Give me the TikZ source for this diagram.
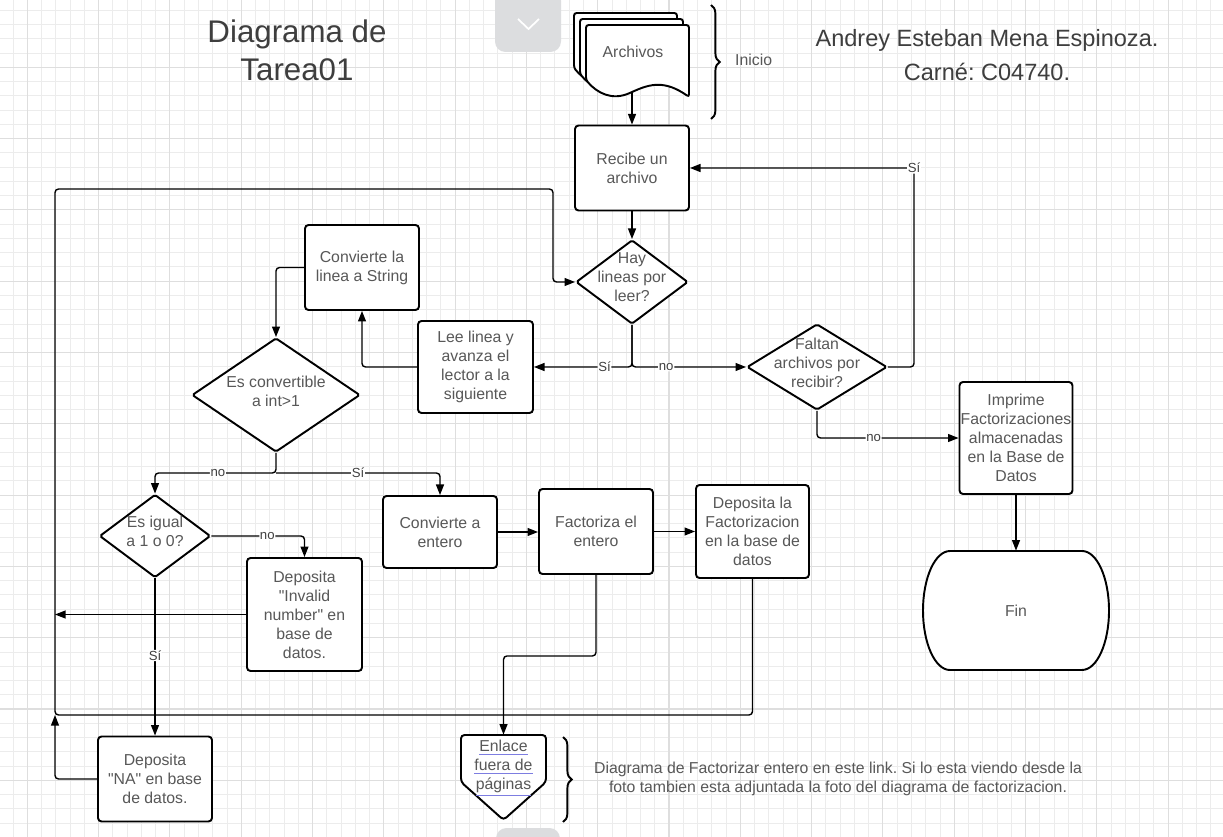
\documentclass[tikz,border=0pt]{standalone}
\usepackage{fontspec}
\setmainfont{Liberation Sans}
\usepackage{tikz}
\usetikzlibrary{shapes.geometric, arrows.meta}
\usetikzlibrary{decorations.pathreplacing}
\definecolor{txtgray}{RGB}{88,88,88}
\definecolor{titgray}{RGB}{62,62,62}
\definecolor{gridmin}{RGB}{236,236,236}
\definecolor{gridmaj}{RGB}{222,222,222}
\definecolor{enlaceazul}{RGB}{125,125,225}
\definecolor{tabgray}{RGB}{220,221,223}
\tikzstyle{proceso} = [rectangle, rounded corners=2pt, draw=black, line width=1.1pt, fill=white, text=txtgray, font=\fontsize{9}{10.8}\selectfont, align=center, inner sep=0.5pt]
\tikzstyle{decision} = [diamond, draw=black, line width=1.1pt, fill=white, inner sep=0pt, rounded corners=1pt]
\tikzstyle{texto} = [text=txtgray, font=\fontsize{9}{10.8}\selectfont, align=center]
\tikzstyle{arrow} = [line width=0.8pt,->,>={Triangle[length=6pt,width=4.5pt]}, rounded corners=2pt]
\tikzstyle{etiq} = [fill=white, inner sep=0.4pt, text=black!75, font=\fontsize{7.5}{8}\selectfont]
\tikzstyle{llave} = [decorate, decoration={brace, amplitude=5pt}, line width=1.1pt]
\newcommand{\enl}[1]{{\color{enlaceazul}\underline{\textcolor{txtgray}{#1}}}}
\frenchspacing

\begin{document}
\begin{tikzpicture}[x=0.02cm,y=-0.02cm]
	\useasboundingbox (0,0) rectangle (1223,837);
	\clip (0,0) rectangle (1223,837);
	\fill[white] (0,0) rectangle (1223,837);
	\foreach \i in {-1,...,84}
	\draw[gridmin, line width=0.5pt] ({27.3+14.26*\i},0) -- ({27.3+14.26*\i},837);
	\foreach \j in {-4,...,54}
	\draw[gridmin, line width=0.5pt] (0,{67.3+14.26*\j}) -- (1223,{67.3+14.26*\j});
	\foreach \i in {0,...,16}
	\draw[gridmaj, line width=0.6pt] ({27.3+71.3*\i},0) -- ({27.3+71.3*\i},837);
	\foreach \j in {-1,...,10}
	\draw[gridmaj, line width=0.6pt] (0,{67.3+71.3*\j}) -- (1223,{67.3+71.3*\j});
	\fill[tabgray, rounded corners=6pt] (495,-10) rectangle (561,52);
	\draw[white, line width=1pt] (518,19) -- (528.5,29) -- (539,19);
	\fill[tabgray, rounded corners=6pt] (496,828) rectangle (560,850);
	\node[text=titgray, font=\fontsize{17.8}{21.5}\selectfont, align=center] (titulo) at (297,50) {Diagrama de\\Tarea01};
	\node[text=titgray, font=\fontsize{13.4}{19.8}\selectfont, align=center] (autor) at (987,55) {Andrey Esteban Mena Espinoza.\\Carné: C04740.};
	\foreach \d in {12,6,0}
	\draw[line width=1.1pt, fill=white, rounded corners=1.5pt, shift={(-\d,-\d)}] (586,25) -- (689,25) -- (689,97) .. controls (665,80) and (650,84) .. (632,92) .. controls (612,101) and (597,93) .. (586,80) -- cycle;
	\node[texto] (arch) at (633,52) {Archivos};
	\coordinate (archb) at (632,92);
	\draw[llave] (711,5) -- (711,119);
	\node[texto, anchor=west] (inicio) at (729,60) {Inicio};
	\node[proceso, minimum width=2.28cm, minimum height=1.70cm] (recibe) at (632,168) {Recibe un\\archivo};
	\node[decision, minimum width=2.24cm, minimum height=1.68cm, label={[texto,yshift=2.5pt]center:{Hay\\lineas por\\leer?}}] (hay) at (632,282) {};
	\node[decision, minimum width=2.80cm, minimum height=1.72cm, label={[texto,yshift=2.5pt]center:{Faltan\\archivos por\\recibir?}}] (faltan) at (817,367) {};
	\node[proceso, minimum width=2.30cm, minimum height=1.84cm] (lee) at (475.5,367) {Lee linea y\\avanza el\\lector a la\\siguiente};
	\node[proceso, minimum width=2.28cm, minimum height=1.70cm] (cstr) at (362,267.5) {Convierte la\\linea a String};
	\node[decision, minimum width=3.36cm, minimum height=2.28cm, label={[texto,yshift=2pt]center:{Es convertible\\a int>1}}] (esconv) at (276,395) {};
	\node[decision, minimum width=2.22cm, minimum height=1.66cm, label={[texto,yshift=2.5pt]center:{Es igual\\a 1 o 0?}}] (esigual) at (155,536) {};
	\node[proceso, minimum width=2.30cm, minimum height=2.26cm] (invalid) at (304.5,614.5) {Deposita\\\textquotedbl Invalid\\number\textquotedbl{} en\\base de\\datos.};
	\node[proceso, minimum width=2.28cm, minimum height=1.70cm] (na) at (155,779) {Deposita\\\textquotedbl NA\textquotedbl{} en base\\de datos.};
	\node[proceso, minimum width=2.28cm, minimum height=1.44cm] (centero) at (440,532) {Convierte a\\entero};
	\node[proceso, minimum width=2.28cm, minimum height=1.70cm] (fact) at (596,531.5) {Factoriza el\\entero};
	\node[proceso, minimum width=2.26cm, minimum height=1.86cm] (depfact) at (752.5,531.5) {Deposita la\\Factorizacion\\en la base de\\datos};
	\node[proceso, minimum width=2.26cm, minimum height=2.24cm] (imprime) at (1016,438) {Imprime\\Factorizaciones\\almacenadas\\en la Base de\\Datos};
	\draw[line width=1.1pt, fill=white] (950,551) -- (1082,551) arc[start angle=90,end angle=-90,x radius=0.54cm,y radius=1.19cm] -- (950,670) arc[start angle=270,end angle=90,x radius=0.54cm,y radius=1.19cm] -- cycle;
	\node[texto, minimum width=3.7cm, minimum height=2.38cm] (fin) at (1016,610.5) {Fin};
	\draw[line width=1.1pt, fill=white, rounded corners=2pt] (461,735) -- (546,735) -- (546,782) -- (503.5,820) -- (461,782) -- cycle;
	\node[minimum width=1.7cm, minimum height=1.7cm, label={[texto,yshift=0.19cm]center:{\enl{Enlace}\\\enl{fuera de}\\\enl{páginas}}}] (enlace) at (503.5,777.5) {};
	\draw[llave] (563,737) -- (563,822);
	\node[texto] (desc) at (838,779) {Diagrama de Factorizar entero en este link. Si lo esta viendo desde la\\foto tambien esta adjuntada la foto del diagrama de factorizacion.};
	\draw[arrow] (archb) -- (recibe.north);
	\draw[arrow] (recibe.south) -- (hay.north);
	\draw[arrow] (hay.south) |- (lee.east) node[etiq, pos=0.64] {Sí};
	\draw[arrow] (hay.south) |- (faltan.west) node[etiq, pos=0.65] {no};
	\coordinate (csi) at (914,168);
	\draw[arrow] (faltan.east) -| (csi) node[etiq] {Sí} -- (recibe.east);
	\draw[arrow] (faltan.south) |- (imprime.west) node[etiq, pos=0.7] {no};
	\draw[arrow] (imprime.south) -- (fin.north);
	\draw[arrow] (lee.west) -| (cstr.south);
	\draw[arrow] (cstr.west) -| (esconv.north);
	\coordinate (split) at (276,473);
	\draw[arrow] (esconv.south) -- (split) -| (esigual.north) node[etiq, pos=0.24] {no};
	\draw[arrow] (split) -| (centero.north) node[etiq, pos=0.25] {Sí};
	\draw[arrow] (esigual.east) -| (invalid.north) node[etiq, pos=0.3] {no};
	\draw[arrow] (esigual.south) -- (na.north) node[etiq, pos=0.49] {Sí};
	\coordinate (lpa) at (55,715);
	\coordinate (lpb) at (553,189);
	\draw[arrow] (depfact.south) |- (lpa) |- (lpb) |- (hay.west);
	\draw[arrow] (invalid.west) -- (invalid.west -| lpa);
	\draw[arrow] (na.west) -| (lpa);
	\draw[arrow] (centero.east) -- (centero.east -| fact.west);
	\draw[arrow] (fact.east) -- (fact.east -| depfact.west);
	\draw[arrow] (fact.south) -- ++(0,81) -| (enlace.north);
\end{tikzpicture}
\end{document}
